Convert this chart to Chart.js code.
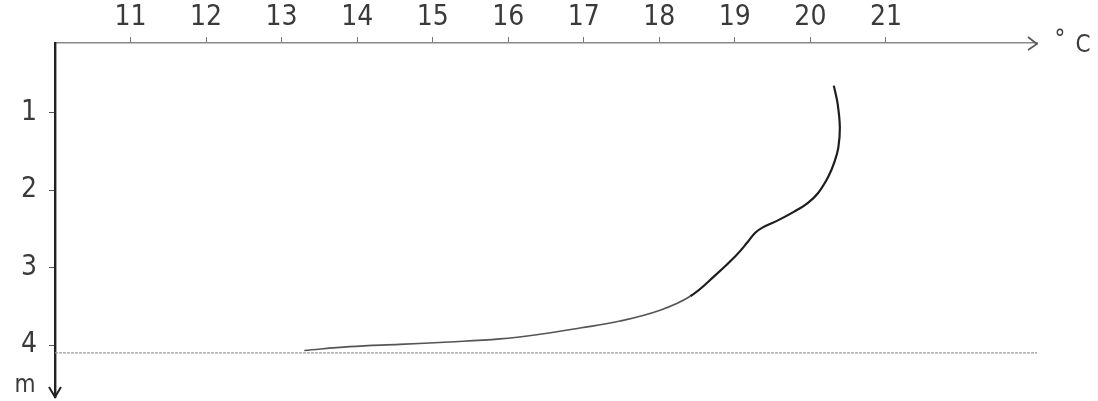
<!DOCTYPE html>
<html>
<head>
<meta charset="utf-8">
<script src="https://cdn.jsdelivr.net/npm/chart.js@4"></script>
<style>
  html, body { margin: 0; padding: 0; background: #fff; }
  #wrap { width: 1098px; height: 401px; position: relative; }
</style>
</head>
<body>
<div id="wrap"><canvas id="profile"></canvas></div>
<script>
// temperature profile (depth in m, temperature in °C)
const tempTicks = [11, 12, 13, 14, 15, 16, 17, 18, 19, 20, 21];
const depthTicks = [1, 2, 3, 4];
const profileTemp = [20.31, 20.36, 20.39, 20.37, 20.32, 20.24, 20.10, 19.96, 19.78, 19.57, 19.37, 19.27,
    19.17, 19.01, 18.74, 18.41, 18.01, 17.48, 16.95, 16.42, 15.89, 15.22, 14.56, 13.90, 13.30];
const profileDepth = [0.65, 0.88, 1.19, 1.45, 1.63, 1.82, 2.04, 2.17, 2.28, 2.39, 2.48, 2.55,
    2.67, 2.85, 3.10, 3.37, 3.55, 3.69, 3.78, 3.86, 3.92, 3.96, 3.99, 4.02, 4.07];
const floorDepth = 4.1;
const tempRange = [10.0, 23.0];
const depthRange = [0.1, 4.67];

const font = { family: "'DejaVu Sans Condensed', 'DejaVu Sans', sans-serif", size: 28 };
const inkColor = '#3a3a3a';

const profilePoints = profileTemp.map((t, i) => ({ x: t, y: profileDepth[i] }));
const floorPoints = [{ x: tempRange[0], y: floorDepth }, { x: tempRange[1], y: floorDepth }];

// arrows and units at the end of each axis
const axisDecor = {
    id: 'axisDecor',
    afterDraw(chart) {
        const { ctx, chartArea } = chart;
        ctx.save();
        ctx.lineWidth = 1.6;
        ctx.strokeStyle = '#555';
        ctx.beginPath();
        ctx.moveTo(chartArea.right - 9, chartArea.top - 6);
        ctx.lineTo(chartArea.right, chartArea.top + 1);
        ctx.lineTo(chartArea.right - 9, chartArea.top + 7);
        ctx.stroke();

        ctx.strokeStyle = '#222';
        ctx.lineWidth = 2;
        ctx.beginPath();
        ctx.moveTo(chartArea.left - 6, chartArea.bottom - 10);
        ctx.lineTo(chartArea.left, chartArea.bottom);
        ctx.lineTo(chartArea.left + 6, chartArea.bottom - 10);
        ctx.stroke();

        ctx.fillStyle = inkColor;
        ctx.textAlign = 'center';
        ctx.textBaseline = 'middle';
        ctx.font = "24px 'DejaVu Sans Condensed', 'DejaVu Sans', sans-serif";
        ctx.fillText('°', chartArea.right + 23, chartArea.top - 2);
        ctx.fillText('C', chartArea.right + 46, chartArea.top + 3);
        ctx.fillText('m', chartArea.left - 30, chartArea.bottom - 11);
        ctx.restore();
    }
};

new Chart(document.getElementById('profile'), {
    type: 'scatter',
    data: {
        datasets: [
            {
                label: 'floor',
                data: floorPoints,
                showLine: true,
                borderColor: '#9a9a9a',
                borderWidth: 1.4,
                borderDash: [3, 1],
                pointRadius: 0
            },
            {
                label: 'temperature',
                data: profilePoints,
                showLine: true,
                borderColor: '#1e1e1e',
                borderWidth: 2,
                tension: 0.4,
                pointRadius: 0,
                segment: {
                    // the deep part of the pencil line is fainter
                    borderColor: ctx => ctx.p0.parsed.y > 3.3 ? '#555' : '#1e1e1e',
                    borderWidth: ctx => ctx.p0.parsed.y > 3.3 ? 1.6 : 2.2
                }
            }
        ]
    },
    options: {
        responsive: true,
        maintainAspectRatio: false,
        animation: false,
        layout: { padding: { top: 0, left: 0, right: 61, bottom: 4 } },
        plugins: {
            legend: { display: false },
            tooltip: { enabled: false }
        },
        scales: {
            x: {
                type: 'linear',
                position: 'top',
                min: tempRange[0],
                max: tempRange[1],
                afterBuildTicks: scale => { scale.ticks = tempTicks.map(v => ({ value: v })); },
                afterFit: scale => {
                    scale.height = 43;
                    scale.paddingLeft = 0;
                    scale.paddingRight = 0;
                },
                grid: { drawOnChartArea: false, drawTicks: true, tickLength: 6, color: '#777' },
                border: { color: '#8a8a8a', width: 1.6 },
                ticks: { font: font, color: inkColor, padding: 2, maxRotation: 0 }
            },
            y: {
                type: 'linear',
                reverse: true,
                min: depthRange[0],
                max: depthRange[1],
                afterBuildTicks: scale => { scale.ticks = depthTicks.map(v => ({ value: v })); },
                afterFit: scale => {
                    scale.width = 55;
                    scale.paddingTop = 0;
                    scale.paddingBottom = 0;
                },
                grid: { drawOnChartArea: false, drawTicks: true, tickLength: 6, color: '#555' },
                border: { color: '#222', width: 2.4 },
                ticks: { font: font, color: inkColor, padding: 12 }
            }
        }
    },
    plugins: [axisDecor]
});
</script>
</body>
</html>
